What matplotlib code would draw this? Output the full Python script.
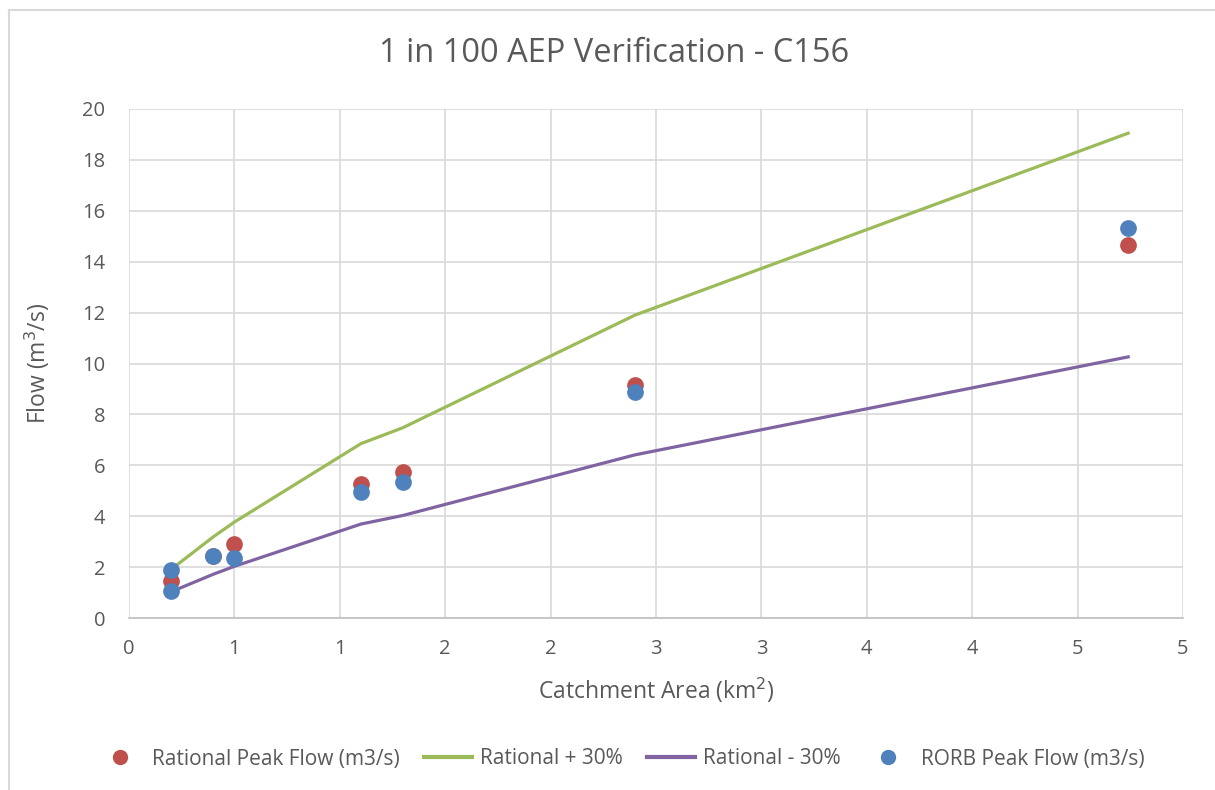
import matplotlib.pyplot as plt
from matplotlib.lines import Line2D
import numpy as np

plt.rcParams['font.family'] = ['Open Sans', 'DejaVu Sans']

# 數據 (catchment area km2, flow m3/s)
rational_area = [0.2, 0.4, 0.5, 1.1, 1.3, 2.4, 4.74]
rational_flow = [1.47, 2.45, 2.9, 5.27, 5.75, 9.15, 14.65]
upper_flow = [1.91, 3.19, 3.77, 6.85, 7.48, 11.9, 19.05]
lower_flow = [1.03, 1.72, 2.03, 3.69, 4.03, 6.41, 10.26]
rorb_area = [0.2, 0.2, 0.4, 0.5, 1.1, 1.3, 2.4, 4.74]
rorb_flow = [1.88, 1.07, 2.45, 2.35, 4.95, 5.33, 8.87, 15.32]

x_ticks = np.arange(0, 5.01, 0.5)
x_labels = ['0', '1', '1', '2', '2', '3', '3', '4', '4', '5', '5']

red = '#C0504D'
green = '#9BBB59'
purple = '#8064A2'
blue = '#4F81BD'
txt = '#595959'
grid_c = '#D9D9D9'

fig = plt.figure(figsize=(12.15, 7.9), dpi=100)
ax = fig.add_axes([129 / 1215, 1 - 618 / 790, (1183 - 129) / 1215, (618 - 109) / 790])

# 外框 (只看得到左邊與上邊)
fig.add_artist(Line2D([9 / 1215, 9 / 1215], [0, 1 - 10 / 790], transform=fig.transFigure,
                      color=grid_c, lw=1.5))
fig.add_artist(Line2D([9 / 1215, 1], [1 - 10 / 790, 1 - 10 / 790], transform=fig.transFigure,
                      color=grid_c, lw=1.5))

ax.plot(rational_area, upper_flow, color=green, lw=2.3, zorder=2, label='Rational + 30%')
ax.plot(rational_area, lower_flow, color=purple, lw=2.3, zorder=2, label='Rational - 30%')
ax.scatter(rational_area, rational_flow, s=145, color=red, zorder=3, linewidths=0,
           label='Rational Peak Flow (m3/s)')
ax.scatter(rorb_area, rorb_flow, s=145, color=blue, zorder=4, linewidths=0,
           label='RORB Peak Flow (m3/s)')

ax.set_xlim(0, 5)
ax.set_ylim(0, 20)
ax.set_xticks(x_ticks)
ax.set_xticklabels(x_labels)
ax.set_yticks(np.arange(0, 21, 2))
ax.grid(True, color=grid_c, lw=1.2)
ax.set_axisbelow(True)
for s in ['top', 'right', 'left']:
    ax.spines[s].set_visible(False)
ax.spines['bottom'].set_color('#BFBFBF')
ax.spines['bottom'].set_linewidth(1.2)
ax.tick_params(axis='x', length=0, labelsize=14.5, colors=txt, pad=15)
ax.tick_params(axis='y', length=0, labelsize=14.5, colors=txt, pad=17)

fig.text(614 / 1215, 1 - 53 / 790, '1 in 100 AEP Verification - C156', fontsize=23.5,
         color=txt, ha='center', va='center')
ax.set_xlabel('Catchment Area (km$^2$)', fontsize=16.5, color=txt, labelpad=12)
ax.set_ylabel('Flow (m$^3$/s)', fontsize=16.5, color=txt, labelpad=22)

handles = [
    Line2D([], [], marker='o', color=red, linestyle='none', markersize=10),
    Line2D([], [], color=green, lw=3),
    Line2D([], [], color=purple, lw=3),
    Line2D([], [], marker='o', color=blue, linestyle='none', markersize=10),
]
labels = ['Rational Peak Flow (m3/s)', 'Rational + 30%', 'Rational - 30%', 'RORB Peak Flow (m3/s)']
leg = fig.legend(handles, labels, loc='center', bbox_to_anchor=(620 / 1215, 1 - 759 / 790), ncol=4,
                 frameon=False, fontsize=15, handlelength=2.3, handletextpad=0.4,
                 columnspacing=1.15)
for t in leg.get_texts():
    t.set_color(txt)

fig.savefig('out.png', dpi=100)
